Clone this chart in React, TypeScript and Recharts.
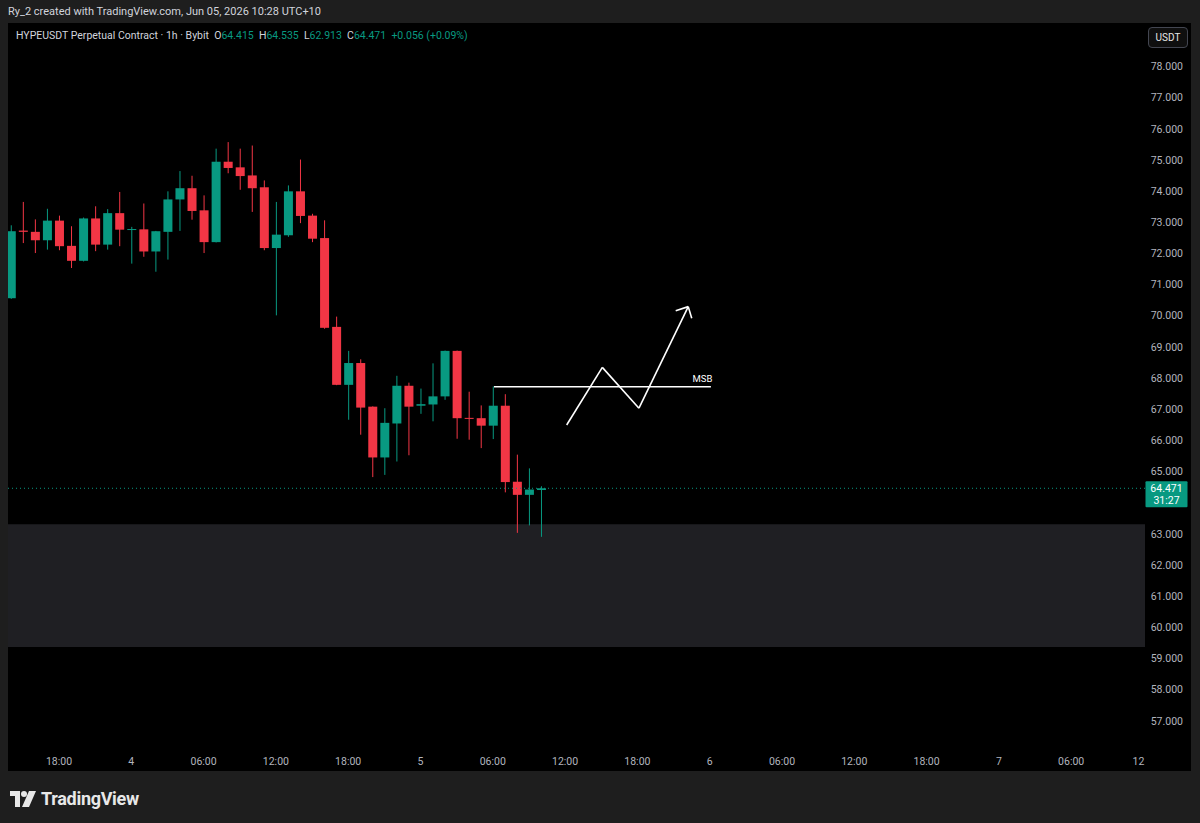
import React from 'react';
import {
  ComposedChart,
  Bar,
  XAxis,
  YAxis,
  ReferenceLine,
  ReferenceArea,
  ReferenceDot,
} from 'recharts';

// hourly candles, index 0 = Jun 3 14:00
const opens = [70.57, 72.74, 72.7, 72.43, 73.06, 72.25, 71.77, 73.13, 72.29, 73.3, 72.77, 72.78, 72.07, 72.7, 73.74, 74.1, 73.39, 72.37, 74.95, 74.77, 74.51, 74.13, 72.18, 72.59, 74.0, 73.22, 72.5, 69.65, 67.79, 68.49, 67.09, 65.46, 66.55, 67.76, 67.12, 67.16, 67.42, 68.88, 66.73, 66.72, 66.48, 67.12, 64.68, 64.26, 64.415];
const highs = [72.91, 73.66, 73.1, 73.44, 73.22, 72.88, 73.16, 73.52, 73.43, 73.98, 72.86, 73.61, 72.73, 74.0, 74.65, 74.5, 73.87, 75.37, 75.58, 75.37, 75.47, 74.35, 73.66, 74.19, 75.02, 73.28, 73.07, 69.98, 68.88, 68.61, 67.1, 67.04, 68.08, 67.86, 67.67, 68.48, 68.89, 68.89, 67.57, 67.13, 67.74, 67.49, 65.55, 65.11, 64.535];
const lows = [70.55, 72.34, 72.02, 72.13, 72.11, 71.54, 71.75, 72.08, 72.13, 72.24, 71.68, 71.9, 71.42, 71.81, 72.73, 73.09, 72.02, 72.36, 74.58, 74.05, 73.34, 72.11, 70.02, 72.54, 72.98, 72.37, 69.59, 67.78, 66.67, 66.19, 64.83, 64.9, 65.33, 65.53, 66.86, 66.62, 67.31, 66.06, 66.03, 65.76, 66.05, 64.34, 63.04, 63.28, 62.913];
const closes = [72.72, 72.7, 72.43, 73.06, 72.24, 71.77, 73.13, 72.29, 73.3, 72.77, 72.79, 72.07, 72.72, 73.74, 74.1, 73.37, 72.37, 74.95, 74.75, 74.49, 74.1, 72.18, 72.61, 74.0, 73.21, 72.48, 69.62, 67.79, 68.49, 67.06, 65.46, 66.57, 67.76, 67.09, 67.17, 67.42, 68.88, 66.72, 66.71, 66.48, 67.12, 64.67, 64.26, 64.43, 64.471];

const timeTickPos = [4, 10, 16, 22, 28, 34, 40, 46, 52, 58, 64, 70, 76, 82, 88, 94];
const timeTickLabels = ['18:00', '4', '06:00', '12:00', '18:00', '5', '06:00', '12:00', '18:00', '6', '06:00', '12:00', '18:00', '7', '06:00', '12'];
// 64.000 is hidden behind the last-price label in the reference
const priceTicks = [57, 58, 59, 60, 61, 62, 63, 65, 66, 67, 68, 69, 70, 71, 72, 73, 74, 75, 76, 77, 78];

const lastPrice = 64.471;
const zoneLow = 59.38;
const zoneHigh = 63.32;
const msbPrice = 67.73;
const msbStart = 40.1;
const msbEnd = 58.1;
const msbLabelX = 57.4;
const zigX = [46.13, 49.09, 52.13, 56.22];
const zigY = [66.5, 68.35, 67.04, 70.3];
const arrowHeadX = [55.18, 56.51];
const arrowHeadY = [70.17, 69.93];

const GREEN = '#089981';
const RED = '#f23645';
const FONT = 'Roboto, "Noto Sans", sans-serif';

const data = opens.map((o, i) => ({
  t: i,
  o,
  h: highs[i],
  l: lows[i],
  c: closes[i],
}));

const Candle = (props: any) => {
  const { x, y, width, height, payload } = props;
  if (x == null || y == null) return null;
  const { o, h, l, c } = payload;
  const top = Math.min(y, y + height);
  const hgt = Math.abs(height);
  const py = (v: number) => top + ((h - v) / (h - l)) * hgt;
  const up = c >= o;
  const col = up ? GREEN : RED;
  const cx = x + width / 2;
  const yo = py(o);
  const yc = py(c);
  const bTop = Math.min(yo, yc);
  const bH = Math.max(1, Math.abs(yo - yc));
  return (
    <g>
      <rect x={cx - 0.5} y={top} width={1} height={hgt} fill={col} />
      <rect x={x} y={bTop} width={width} height={bH} fill={col} />
    </g>
  );
};

const YTick = (props: any) => {
  const { y, payload } = props;
  return (
    <text x={1175} y={y} dy={3.5} textAnchor="end" fill="#b2b5be" fontSize={10.5} fontFamily={FONT}>
      {payload.value.toFixed(3)}
    </text>
  );
};

const XTick = (props: any) => {
  const { x, y, payload } = props;
  const idx = timeTickPos.indexOf(payload.value);
  const label = timeTickLabels[idx];
  const shift = idx === timeTickPos.length - 1 ? -5 : 0;
  return (
    <text x={x + shift} y={y + 11} textAnchor="middle" fill="#b2b5be" fontSize={10.5} fontFamily={FONT}>
      {label}
    </text>
  );
};

const PriceLabel = (props: any) => {
  const vb = props.viewBox || {};
  const px = (vb.x || 0) + (vb.width || 0);
  const py = vb.y || 0;
  return (
    <g>
      <rect x={px + 0.5} y={py - 7} width={42} height={26} fill={GREEN} rx={1} />
      <text x={px + 21.5} y={py + 3.5} textAnchor="middle" fill="#fff" fontSize={10.5} fontFamily={FONT}>
        {lastPrice.toFixed(3)}
      </text>
      <text x={px + 21.5} y={py + 15.5} textAnchor="middle" fill="#fff" fontSize={10.5} fontFamily={FONT}>
        31:27
      </text>
    </g>
  );
};

const seg = (x1: number, y1: number, x2: number, y2: number, key: string) => (
  <ReferenceLine
    key={key}
    segment={[
      { x: x1, y: y1 },
      { x: x2, y: y2 },
    ]}
    stroke="#ffffff"
    strokeWidth={1.6}
    ifOverflow="visible"
  />
);

const green = (s: string) => <span style={{ color: GREEN }}>{s}</span>;

export default function App() {
  return (
    <div
      style={{
        position: 'absolute',
        left: 0,
        top: 0,
        width: 1200,
        height: 823,
        background: '#1e1e1e',
        fontFamily: FONT,
        overflow: 'hidden',
      }}
    >
      <div style={{ position: 'absolute', left: 8, top: 5, fontSize: 11, color: '#d1d4dc', whiteSpace: 'nowrap' }}>
        Ry_2 created with TradingView.com, Jun 05, 2026 10:28 UTC+10
      </div>
      <div style={{ position: 'absolute', left: 8, top: 23, width: 1183, height: 748, background: '#000' }}>
        <ComposedChart
          width={1183}
          height={748}
          data={data}
          margin={{ top: 0, right: 0, bottom: 0, left: 0 }}
        >
          <XAxis
            dataKey="t"
            type="number"
            domain={[-0.232, 94.125]}
            allowDataOverflow
            ticks={timeTickPos}
            tick={<XTick />}
            tickLine={false}
            axisLine={false}
            height={25}
            interval={0}
          />
          <YAxis
            orientation="right"
            type="number"
            domain={[56.2, 79.402]}
            allowDataOverflow
            ticks={priceTicks}
            tick={<YTick />}
            tickLine={false}
            axisLine={false}
            width={46}
            interval={0}
          />
          <ReferenceArea y1={zoneLow} y2={zoneHigh} fill="#1f1f23" fillOpacity={1} stroke="none" ifOverflow="hidden" />
          <ReferenceLine
            y={lastPrice}
            stroke={GREEN}
            strokeDasharray="1 3"
            strokeWidth={1}
            label={<PriceLabel />}
          />
          <Bar
            dataKey={(d: any) => [d.l, d.h]}
            barSize={9}
            shape={<Candle />}
            isAnimationActive={false}
          />
          {seg(msbStart, msbPrice, msbEnd, msbPrice, 'msb')}
          {seg(zigX[0], zigY[0], zigX[1], zigY[1], 'z1')}
          {seg(zigX[1], zigY[1], zigX[2], zigY[2], 'z2')}
          {seg(zigX[2], zigY[2], zigX[3], zigY[3], 'z3')}
          {seg(zigX[3], zigY[3], arrowHeadX[0], arrowHeadY[0], 'a1')}
          {seg(zigX[3], zigY[3], arrowHeadX[1], arrowHeadY[1], 'a2')}
          <ReferenceDot
            x={msbLabelX}
            y={msbPrice}
            r={1}
            fill="none"
            stroke="none"
            label={{ value: 'MSB', position: 'top', fill: '#ffffff', fontSize: 9.5, fontFamily: FONT, offset: 4 }}
          />
        </ComposedChart>
        <div
          style={{
            position: 'absolute',
            left: 8,
            top: 6,
            fontSize: 10.5,
            color: '#d1d4dc',
            whiteSpace: 'nowrap',
          }}
        >
          HYPEUSDT Perpetual Contract · 1h · Bybit&nbsp;&nbsp;O{green('64.415')}&nbsp;&nbsp;H{green('64.535')}&nbsp;&nbsp;L
          {green('62.913')}&nbsp;&nbsp;C{green('64.471')}&nbsp;&nbsp;{green('+0.056 (+0.09%)')}
        </div>
        <div
          style={{
            position: 'absolute',
            left: 1140,
            top: 4,
            width: 38,
            height: 19,
            border: '1px solid #434651',
            borderRadius: 4,
            background: '#0f0f0f',
            color: '#e6e6e6',
            fontSize: 10,
            lineHeight: '19px',
            textAlign: 'center',
          }}
        >
          USDT
        </div>
      </div>
      <div style={{ position: 'absolute', left: 10, top: 788, display: 'flex', alignItems: 'center' }}>
        <svg width={26} height={16} viewBox="0 0 26 16">
          <path d="M0 0 H10 V16 H5 V5 H0 Z" fill="#e8e8e8" />
          <circle cx={14} cy={3} r={3} fill="#e8e8e8" />
          <path d="M19 0 H26 L19 16 H12 Z" fill="#e8e8e8" />
        </svg>
        <span style={{ marginLeft: 5, fontSize: 18, fontWeight: 700, color: '#e8e8e8', letterSpacing: -0.3 }}>TradingView</span>
      </div>
    </div>
  );
}
